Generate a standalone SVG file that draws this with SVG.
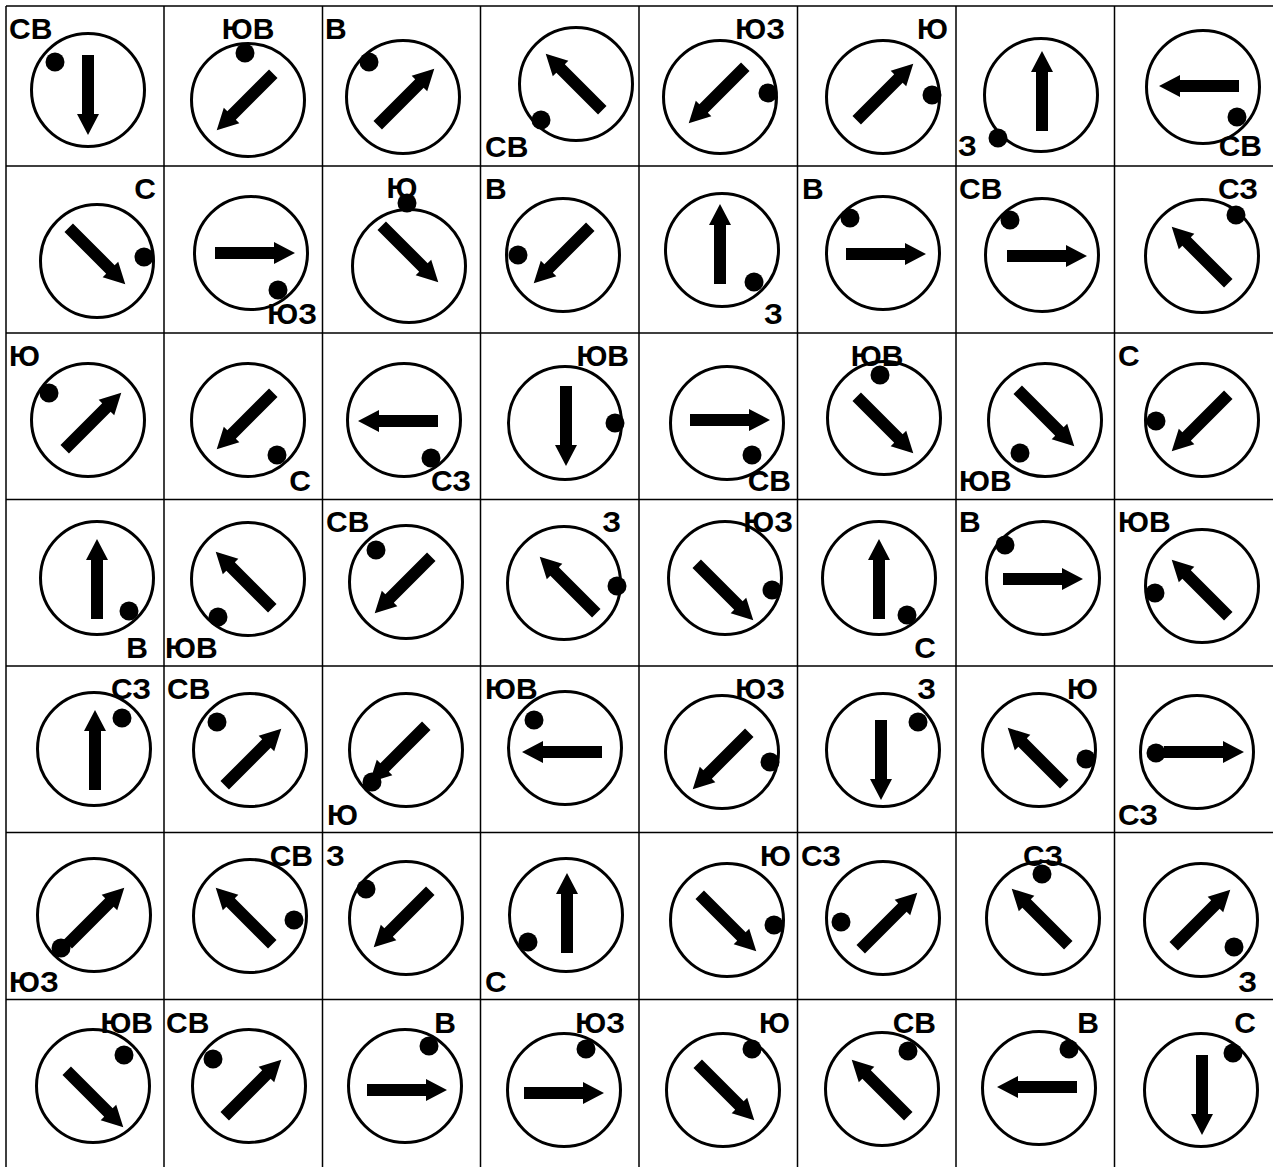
<svg xmlns="http://www.w3.org/2000/svg" xmlns:xlink="http://www.w3.org/1999/xlink" width="1273" height="1167" viewBox="0 0 1273 1167">
<style>
.g{stroke:#000;stroke-width:1.5;fill:none}
.c{fill:none;stroke:#000;stroke-width:3}
.d{fill:#000}
.a{fill:#000}
.t{font-family:"Liberation Sans",Arial,sans-serif;font-weight:bold;font-size:30px;fill:#000}
.e{text-anchor:end}
.m{text-anchor:middle}
</style>
<defs>
<path id="arr" d="M-40,-6 H19 V-11 L40,0 L19,11 V6 H-40 Z"/>
</defs>
<rect width="1273" height="1167" fill="#fff"/>
<g id="grid" class="g">
<path d="M6,6 V1167 M164,6 V1167 M322.5,6 V1167 M480.5,6 V1167 M639,6 V1167 M797.5,6 V1167 M956,6 V1167 M1114.5,6 V1167"/>
<path d="M6,6 H1273 M6,166 H1273 M6,333 H1273 M6,499.5 H1273 M6,666 H1273 M6,832.5 H1273 M6,999.5 H1273"/>
</g>
<g id="connectors"/>

<!-- Row 1 -->
<g id="n1"><circle class="c" cx="88" cy="90" r="56.5"/><circle class="d" cx="55" cy="62" r="9.5"/><use href="#arr" class="a" transform="translate(88,95) rotate(90)"/><text class="t" x="9" y="39">СВ</text></g>
<g id="n2"><circle class="c" cx="248" cy="100" r="56.5"/><circle class="d" cx="245" cy="53" r="9.5"/><use href="#arr" class="a" transform="translate(245,102) rotate(135)"/><text class="t m" x="248" y="39">ЮВ</text></g>
<g id="n3"><circle class="c" cx="403" cy="97" r="56.5"/><circle class="d" cx="369" cy="62" r="9.5"/><use href="#arr" class="a" transform="translate(406,97) rotate(-45)"/><text class="t" x="325" y="39">В</text></g>
<g id="n4"><circle class="c" cx="576" cy="84" r="56.5"/><circle class="d" cx="541" cy="120" r="9.5"/><use href="#arr" class="a" transform="translate(574,82) rotate(-135)"/><text class="t" x="485" y="157">СВ</text></g>
<g id="n5"><circle class="c" cx="720" cy="97" r="56.5"/><circle class="d" cx="768" cy="93" r="9.5"/><use href="#arr" class="a" transform="translate(717,95) rotate(135)"/><text class="t e" x="785" y="39">ЮЗ</text></g>
<g id="n6"><circle class="c" cx="883" cy="97" r="56.5"/><circle class="d" cx="932" cy="95" r="9.5"/><use href="#arr" class="a" transform="translate(885,92) rotate(-45)"/><text class="t e" x="948" y="39">Ю</text></g>
<g id="n7"><circle class="c" cx="1041" cy="95" r="56.5"/><circle class="d" cx="998" cy="138" r="9.5"/><use href="#arr" class="a" transform="translate(1042,91) rotate(-90)"/><text class="t" x="958" y="156">З</text></g>
<g id="n8"><circle class="c" cx="1203" cy="87" r="56.5"/><circle class="d" cx="1237" cy="117" r="9.5"/><use href="#arr" class="a" transform="translate(1199,86) rotate(180)"/><text class="t e" x="1262" y="156">СВ</text></g>

<!-- Row 2 -->
<g id="n9"><circle class="c" cx="97" cy="261" r="56.5"/><circle class="d" cx="144" cy="257" r="9.5"/><use href="#arr" class="a" transform="translate(97,256) rotate(45)"/><text class="t e" x="156" y="199">С</text></g>
<g id="n10"><circle class="c" cx="251" cy="253" r="56.5"/><circle class="d" cx="278" cy="290" r="9.5"/><use href="#arr" class="a" transform="translate(255,253)"/><text class="t e" x="317" y="324">ЮЗ</text></g>
<g id="n11"><circle class="c" cx="409" cy="266" r="56.5"/><circle class="d" cx="407" cy="203" r="9.5"/><use href="#arr" class="a" transform="translate(410,254) rotate(45)"/><text class="t m" x="402" y="198">Ю</text></g>
<g id="n12"><circle class="c" cx="563" cy="255" r="56.5"/><circle class="d" cx="518" cy="255" r="9.5"/><use href="#arr" class="a" transform="translate(562,255) rotate(135)"/><text class="t" x="485" y="199">В</text></g>
<g id="n13"><circle class="c" cx="722" cy="250" r="56.5"/><circle class="d" cx="754" cy="282" r="9.5"/><use href="#arr" class="a" transform="translate(720,244) rotate(-90)"/><text class="t" x="764" y="324">З</text></g>
<g id="n14"><circle class="c" cx="883" cy="253" r="56.5"/><circle class="d" cx="850" cy="218" r="9.5"/><use href="#arr" class="a" transform="translate(886,254)"/><text class="t" x="802" y="199">В</text></g>
<g id="n15"><circle class="c" cx="1042" cy="255" r="56.5"/><circle class="d" cx="1010" cy="220" r="9.5"/><use href="#arr" class="a" transform="translate(1047,256)"/><text class="t" x="959" y="199">СВ</text></g>
<g id="n16"><circle class="c" cx="1202" cy="256" r="56.5"/><circle class="d" cx="1236" cy="215" r="9.5"/><use href="#arr" class="a" transform="translate(1200,255) rotate(-135)"/><text class="t e" x="1258" y="199">СЗ</text></g>

<!-- Row 3 -->
<g id="n17"><circle class="c" cx="88" cy="420" r="56.5"/><circle class="d" cx="49" cy="393" r="9.5"/><use href="#arr" class="a" transform="translate(93,421) rotate(-45)"/><text class="t" x="9" y="366">Ю</text></g>
<g id="n18"><circle class="c" cx="248" cy="420" r="56.5"/><circle class="d" cx="277" cy="455" r="9.5"/><use href="#arr" class="a" transform="translate(245,421) rotate(135)"/><text class="t e" x="311" y="491">С</text></g>
<g id="n19"><circle class="c" cx="404" cy="420" r="56.5"/><circle class="d" cx="431" cy="458" r="9.5"/><use href="#arr" class="a" transform="translate(398,421) rotate(180)"/><text class="t e" x="471" y="491">СЗ</text></g>
<g id="n20"><circle class="c" cx="565" cy="423" r="56.5"/><circle class="d" cx="615" cy="423" r="9.5"/><use href="#arr" class="a" transform="translate(566,426) rotate(90)"/><text class="t e" x="629" y="366">ЮВ</text></g>
<g id="n21"><circle class="c" cx="727" cy="423" r="56.5"/><circle class="d" cx="752" cy="455" r="9.5"/><use href="#arr" class="a" transform="translate(730,420)"/><text class="t e" x="791" y="491">СВ</text></g>
<g id="n22"><circle class="c" cx="884" cy="418" r="56.5"/><circle class="d" cx="880" cy="375" r="9.5"/><use href="#arr" class="a" transform="translate(885,425) rotate(45)"/><text class="t m" x="877" y="366">ЮВ</text></g>
<g id="n23"><circle class="c" cx="1045" cy="420" r="56.5"/><circle class="d" cx="1020" cy="453" r="9.5"/><use href="#arr" class="a" transform="translate(1046,418) rotate(45)"/><text class="t" x="959" y="491">ЮВ</text></g>
<g id="n24"><circle class="c" cx="1202" cy="420" r="56.5"/><circle class="d" cx="1156" cy="421" r="9.5"/><use href="#arr" class="a" transform="translate(1200,423) rotate(135)"/><text class="t" x="1118" y="366">С</text></g>

<!-- Row 4 -->
<g id="n25"><circle class="c" cx="97" cy="578" r="56.5"/><circle class="d" cx="129" cy="611" r="9.5"/><use href="#arr" class="a" transform="translate(97,579) rotate(-90)"/><text class="t e" x="148" y="658">В</text></g>
<g id="n26"><circle class="c" cx="248" cy="579" r="56.5"/><circle class="d" cx="218" cy="617" r="9.5"/><use href="#arr" class="a" transform="translate(244,580) rotate(-135)"/><text class="t" x="165" y="658">ЮВ</text></g>
<g id="n27"><circle class="c" cx="406" cy="582" r="56.5"/><circle class="d" cx="376" cy="550" r="9.5"/><use href="#arr" class="a" transform="translate(403,585) rotate(135)"/><text class="t" x="326" y="532">СВ</text></g>
<g id="n28"><circle class="c" cx="564" cy="583" r="56.5"/><circle class="d" cx="617" cy="586" r="9.5"/><use href="#arr" class="a" transform="translate(568,585) rotate(-135)"/><text class="t e" x="621" y="532">З</text></g>
<g id="n29"><circle class="c" cx="725" cy="578" r="56.5"/><circle class="d" cx="772" cy="590" r="9.5"/><use href="#arr" class="a" transform="translate(725,592) rotate(45)"/><text class="t e" x="793" y="532">ЮЗ</text></g>
<g id="n30"><circle class="c" cx="879" cy="578" r="56.5"/><circle class="d" cx="907" cy="615" r="9.5"/><use href="#arr" class="a" transform="translate(879,579) rotate(-90)"/><text class="t e" x="936" y="658">С</text></g>
<g id="n31"><circle class="c" cx="1043" cy="578" r="56.5"/><circle class="d" cx="1005" cy="545" r="9.5"/><use href="#arr" class="a" transform="translate(1043,579)"/><text class="t" x="959" y="532">В</text></g>
<g id="n32"><circle class="c" cx="1202" cy="586" r="56.5"/><circle class="d" cx="1155" cy="593" r="9.5"/><use href="#arr" class="a" transform="translate(1200,588) rotate(-135)"/><text class="t" x="1118" y="532">ЮВ</text></g>

<!-- Row 5 -->
<g id="n33"><circle class="c" cx="94" cy="749" r="56.5"/><circle class="d" cx="122" cy="718" r="9.5"/><use href="#arr" class="a" transform="translate(95,750) rotate(-90)"/><text class="t e" x="151" y="699">СЗ</text></g>
<g id="n34"><circle class="c" cx="250" cy="750" r="56.5"/><circle class="d" cx="217" cy="722" r="9.5"/><use href="#arr" class="a" transform="translate(253,757) rotate(-45)"/><text class="t" x="167" y="699">СВ</text></g>
<g id="n35"><circle class="c" cx="406" cy="750" r="56.5"/><circle class="d" cx="372" cy="782" r="9.5"/><use href="#arr" class="a" transform="translate(398,754) rotate(135)"/><text class="t" x="327" y="825">Ю</text></g>
<g id="n36"><circle class="c" cx="565" cy="748" r="56.5"/><circle class="d" cx="534" cy="720" r="9.5"/><use href="#arr" class="a" transform="translate(562,752) rotate(180)"/><text class="t" x="485" y="699">ЮВ</text></g>
<g id="n37"><circle class="c" cx="722" cy="752" r="56.5"/><circle class="d" cx="770" cy="762" r="9.5"/><use href="#arr" class="a" transform="translate(721,761) rotate(135)"/><text class="t e" x="785" y="699">ЮЗ</text></g>
<g id="n38"><circle class="c" cx="883" cy="750" r="56.5"/><circle class="d" cx="918" cy="722" r="9.5"/><use href="#arr" class="a" transform="translate(881,760) rotate(90)"/><text class="t e" x="936" y="699">З</text></g>
<g id="n39"><circle class="c" cx="1039" cy="750" r="56.5"/><circle class="d" cx="1086" cy="759" r="9.5"/><use href="#arr" class="a" transform="translate(1036,756) rotate(-135)"/><text class="t e" x="1098" y="699">Ю</text></g>
<g id="n40"><circle class="c" cx="1197" cy="752" r="56.5"/><circle class="d" cx="1156" cy="753" r="9.5"/><use href="#arr" class="a" transform="translate(1204,752)"/><text class="t" x="1118" y="825">СЗ</text></g>

<!-- Row 6 -->
<g id="n41"><circle class="c" cx="94" cy="915" r="56.5"/><circle class="d" cx="61" cy="948" r="9.5"/><use href="#arr" class="a" transform="translate(96,916) rotate(-45)"/><text class="t" x="9" y="992">ЮЗ</text></g>
<g id="n42"><circle class="c" cx="250" cy="916" r="56.5"/><circle class="d" cx="294" cy="920" r="9.5"/><use href="#arr" class="a" transform="translate(244,916) rotate(-135)"/><text class="t e" x="313" y="866">СВ</text></g>
<g id="n43"><circle class="c" cx="406" cy="918" r="56.5"/><circle class="d" cx="366" cy="889" r="9.5"/><use href="#arr" class="a" transform="translate(402,919) rotate(135)"/><text class="t" x="326" y="866">З</text></g>
<g id="n44"><circle class="c" cx="566" cy="915" r="56.5"/><circle class="d" cx="528" cy="942" r="9.5"/><use href="#arr" class="a" transform="translate(567,913) rotate(-90)"/><text class="t" x="485" y="992">С</text></g>
<g id="n45"><circle class="c" cx="727" cy="920" r="56.5"/><circle class="d" cx="774" cy="925" r="9.5"/><use href="#arr" class="a" transform="translate(728,923) rotate(45)"/><text class="t e" x="791" y="866">Ю</text></g>
<g id="n46"><circle class="c" cx="883" cy="918" r="56.5"/><circle class="d" cx="841" cy="922" r="9.5"/><use href="#arr" class="a" transform="translate(889,921) rotate(-45)"/><text class="t" x="801" y="866">СЗ</text></g>
<g id="n47"><circle class="c" cx="1043" cy="918" r="56.5"/><circle class="d" cx="1042" cy="874" r="9.5"/><use href="#arr" class="a" transform="translate(1040,917) rotate(-135)"/><text class="t m" x="1043" y="866">СЗ</text></g>
<g id="n48"><circle class="c" cx="1201" cy="920" r="56.5"/><circle class="d" cx="1234" cy="947" r="9.5"/><use href="#arr" class="a" transform="translate(1202,918) rotate(-45)"/><text class="t e" x="1257" y="992">З</text></g>

<!-- Row 7 -->
<g id="n49"><circle class="c" cx="93" cy="1086" r="56.5"/><circle class="d" cx="124" cy="1055" r="9.5"/><use href="#arr" class="a" transform="translate(95,1099) rotate(45)"/><text class="t e" x="153" y="1033">ЮВ</text></g>
<g id="n50"><circle class="c" cx="249" cy="1086" r="56.5"/><circle class="d" cx="213" cy="1059" r="9.5"/><use href="#arr" class="a" transform="translate(253,1088) rotate(-45)"/><text class="t" x="166" y="1033">СВ</text></g>
<g id="n51"><circle class="c" cx="405" cy="1086" r="56.5"/><circle class="d" cx="429" cy="1046" r="9.5"/><use href="#arr" class="a" transform="translate(407,1090)"/><text class="t e" x="456" y="1033">В</text></g>
<g id="n52"><circle class="c" cx="564" cy="1090" r="56.5"/><circle class="d" cx="586" cy="1049" r="9.5"/><use href="#arr" class="a" transform="translate(564,1093)"/><text class="t e" x="625" y="1033">ЮЗ</text></g>
<g id="n53"><circle class="c" cx="723" cy="1090" r="56.5"/><circle class="d" cx="752" cy="1049" r="9.5"/><use href="#arr" class="a" transform="translate(726,1092) rotate(45)"/><text class="t e" x="790" y="1033">Ю</text></g>
<g id="n54"><circle class="c" cx="882" cy="1089" r="56.5"/><circle class="d" cx="908" cy="1051" r="9.5"/><use href="#arr" class="a" transform="translate(880,1088) rotate(-135)"/><text class="t e" x="936" y="1033">СВ</text></g>
<g id="n55"><circle class="c" cx="1039" cy="1088" r="56.5"/><circle class="d" cx="1069" cy="1049" r="9.5"/><use href="#arr" class="a" transform="translate(1037,1087) rotate(180)"/><text class="t e" x="1099" y="1033">В</text></g>
<g id="n56"><circle class="c" cx="1201" cy="1090" r="56.5"/><circle class="d" cx="1233" cy="1053" r="9.5"/><use href="#arr" class="a" transform="translate(1202,1095) rotate(90)"/><text class="t e" x="1256" y="1033">С</text></g>
</svg>
